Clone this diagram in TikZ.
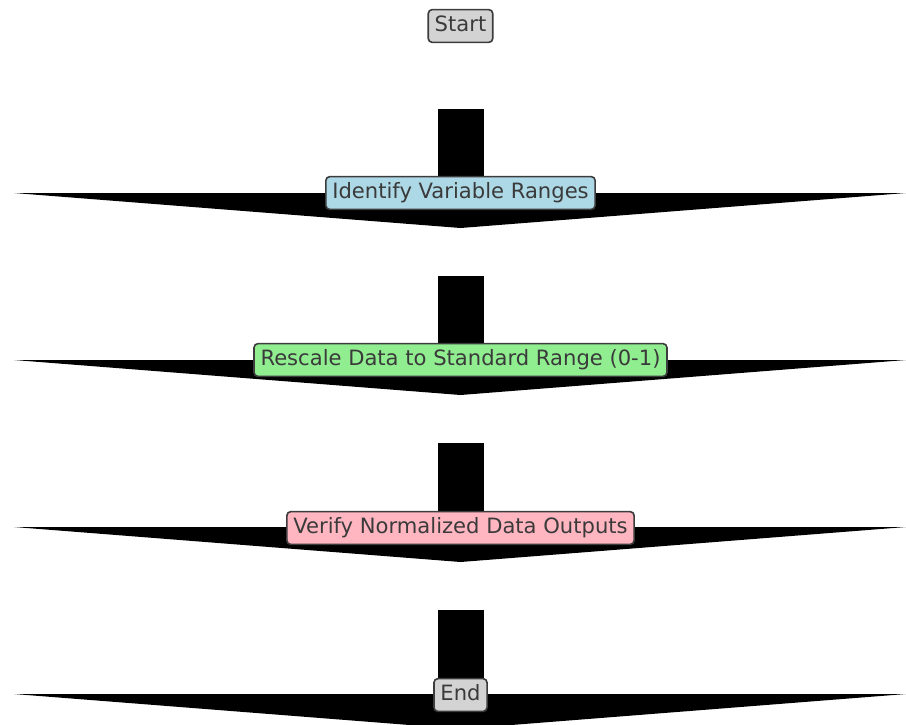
\documentclass[tikz,border=0pt]{standalone}
\usepackage{fontspec}
\setmainfont{DejaVu Sans}
\definecolor{boxblue}{HTML}{ADD8E6}
\definecolor{boxgreen}{HTML}{90EE90}
\definecolor{boxpink}{HTML}{FFB6C1}
\definecolor{boxgray}{HTML}{D3D3D3}
\definecolor{edgegray}{HTML}{3C3C3C}
\definecolor{txtgray}{HTML}{3A3A3A}
\tikzset{
  stepbox/.style={draw=edgegray, line width=1.6pt, rounded corners=4pt,
    inner xsep=6.5pt, inner ysep=6pt, text height=15.8pt, text depth=5pt,
    text=txtgray, font=\fontsize{21.1}{25}\selectfont},
  bigarrow/.style={fill=black, draw=none}
}
\begin{document}
\begin{tikzpicture}[x=1pt,y=-1pt]
\useasboundingbox (0,0) rectangle (906,724);
\clip (0,0) rectangle (906,724);
% big arrows (drawn first, behind the boxes)
\foreach \t in {109,276,443,610}{
  \coordinate (st\t) at (460.5,\t);
  \fill[bigarrow] ([xshift=-23pt]st\t) rectangle ([xshift=23pt,yshift=-84pt]st\t);
  \fill[bigarrow] ([xshift=-446.5pt,yshift=-84pt]st\t) -- ([xshift=445.5pt,yshift=-84pt]st\t) -- ([yshift=-119pt]st\t) -- cycle;
}
\node[stepbox, fill=boxgray]  (start) at (460.5,26)  {Start};
\node[stepbox, fill=boxblue]  (ident) at (460.5,193) {Identify Variable Ranges};
\node[stepbox, fill=boxgreen] (resc)  at (460.5,360) {Rescale Data to Standard Range (0-1)};
\node[stepbox, fill=boxpink]  (verif) at (460.5,528) {Verify Normalized Data Outputs};
\node[stepbox, fill=boxgray]  (end)   at (460.5,695) {End};
\end{tikzpicture}
\end{document}
